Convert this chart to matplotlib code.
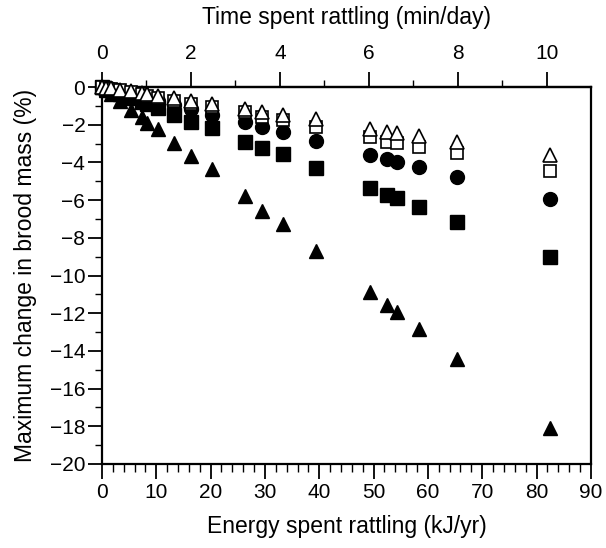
import matplotlib
matplotlib.use("Agg")
import matplotlib.pyplot as plt
from matplotlib.ticker import MultipleLocator, FixedLocator

plt.rcParams['font.family'] = ['Liberation Sans', 'DejaVu Sans']

# Energy spent rattling (kJ/yr)
energy = [0, 0.8, 1.6, 3.3, 5.3, 7.3, 8.3, 10.4, 13.3, 16.4, 20.3, 26.3, 29.4,
          33.4, 39.4, 49.4, 52.4, 54.4, 58.4, 65.4, 82.4]

# Maximum change in brood mass (%) for five scenarios
filled_tri = [0, -0.18, -0.36, -0.75, -1.22, -1.58, -1.89, -2.24, -2.95, -3.66,
              -4.37, -5.78, -6.56, -7.27, -8.68, -10.86, -11.57, -11.92, -12.84,
              -14.45, -18.07]
filled_sq = [0, -0.09, -0.18, -0.36, -0.58, -0.8, -0.9, -1.13, -1.49, -1.84,
             -2.16, -2.9, -3.25, -3.57, -4.31, -5.38, -5.73, -5.91, -6.38,
             -7.18, -9.0]
filled_circ = [0, -0.06, -0.12, -0.24, -0.38, -0.53, -0.6, -0.75, -0.96, -1.19,
               -1.49, -1.87, -2.1, -2.37, -2.86, -3.61, -3.84, -3.96, -4.23,
               -4.76, -5.96]
open_sq = [0, -0.04, -0.09, -0.18, -0.29, -0.39, -0.45, -0.56, -0.72, -0.88,
           -1.05, -1.31, -1.57, -1.75, -2.1, -2.63, -2.9, -2.95, -3.17,
           -3.52, -4.44]
open_tri = [0, -0.04, -0.07, -0.14, -0.23, -0.32, -0.36, -0.46, -0.58, -0.72,
            -0.89, -1.15, -1.32, -1.48, -1.72, -2.25, -2.37, -2.44, -2.6,
            -2.9, -3.61]

# Top-axis tick values (min/day)
time_ticks = [0, 2, 4, 6, 8, 10]
time_minor = [1, 3, 5, 7, 9]

KJ_PER_MIN_DAY = 8.19  # 10 min/day corresponds to ~81.9 kJ/yr

fig = plt.figure(figsize=(6.06, 5.48), dpi=100)
ax = fig.add_axes([0.1683, 0.1533, 0.8067, 0.6879])

ms = 10
ax.plot(energy, filled_tri, linestyle='none', marker='^', ms=ms, color='black',
        mec='black', clip_on=False, zorder=3)
ax.plot(energy, filled_sq, linestyle='none', marker='s', ms=ms - 0.5, color='black',
        mec='black', clip_on=False, zorder=4)
ax.plot(energy, filled_circ, linestyle='none', marker='o', ms=ms, color='black',
        mec='black', clip_on=False, zorder=5)
ax.plot(energy, open_sq, linestyle='none', marker='s', ms=ms - 0.8, mfc='white',
        mec='black', mew=1.2, clip_on=False, zorder=6)
ax.plot(energy, open_tri, linestyle='none', marker='^', ms=ms, mfc='white',
        mec='black', mew=1.2, clip_on=False, zorder=7)

ax.set_xlim(0, 90)
ax.set_ylim(-20, 0)
ax.xaxis.set_major_locator(MultipleLocator(10))
ax.xaxis.set_minor_locator(MultipleLocator(2))
ax.yaxis.set_major_locator(MultipleLocator(2))
ax.yaxis.set_minor_locator(MultipleLocator(1))

for s in ax.spines.values():
    s.set_linewidth(1.6)

ax.tick_params(axis='x', which='major', direction='out', length=11, width=1.3,
               labelsize=15, pad=3)
ax.tick_params(axis='x', which='minor', direction='out', length=6, width=1.0)
ax.tick_params(axis='y', which='major', direction='out', length=10, width=1.3,
               labelsize=15, pad=2)
ax.tick_params(axis='y', which='minor', direction='out', length=5, width=1.0)

ax.set_xlabel('Energy spent rattling (kJ/yr)', fontsize=16.5, labelpad=9)
ax.set_ylabel('Maximum change in brood mass (%)', fontsize=16.5, labelpad=9)

sec = ax.secondary_xaxis('top', functions=(lambda e: e / KJ_PER_MIN_DAY,
                                           lambda t: t * KJ_PER_MIN_DAY))
sec.xaxis.set_major_locator(FixedLocator(time_ticks))
sec.xaxis.set_minor_locator(FixedLocator(time_minor))
sec.tick_params(axis='x', which='major', direction='out', length=11, width=1.3,
                labelsize=15, pad=6)
sec.tick_params(axis='x', which='minor', direction='out', length=5, width=1.0)
sec.spines['top'].set_linewidth(1.6)
sec.set_xlabel('Time spent rattling (min/day)', fontsize=16.5, labelpad=15)

fig.savefig('out.png', dpi=100)
